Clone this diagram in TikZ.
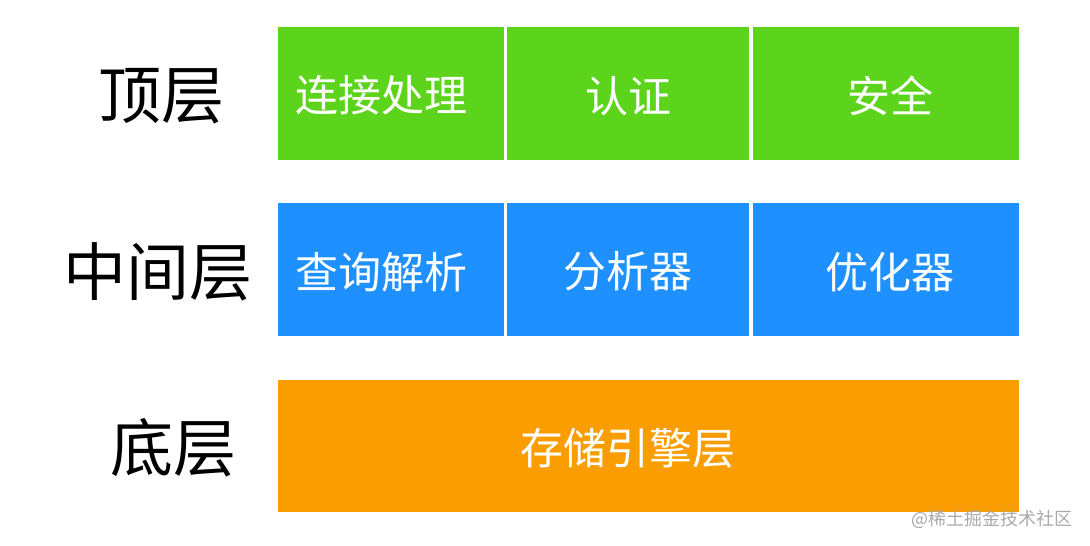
\documentclass[tikz,border=0pt]{standalone}
\usepackage{fontspec}
\setmainfont{Noto Sans CJK SC}
\usepackage{tikz}
\usetikzlibrary{positioning}

\definecolor{topgreen}{HTML}{5DD41C}
\definecolor{midblue}{HTML}{1E90FF}
\definecolor{lowamber}{HTML}{F99D00}
\definecolor{markgray}{HTML}{A9A9A9}

\begin{document}
\begin{tikzpicture}[x=1pt,y=-1pt,
    layer/.style={font=\fontsize{63}{63}\selectfont,inner sep=0pt},
    cell/.style={anchor=north west,inner sep=0pt,minimum height=133pt},
    tag/.style={text=white,font=\fontsize{43}{43}\selectfont,inner sep=0pt,yshift=-2pt}]
      \useasboundingbox (0,0) rectangle (1090,546);

      \coordinate (t1) at (278,27);
      \coordinate (t2) at (507,27);
      \coordinate (t3) at (753,27);
      \coordinate (m1) at (278,203);
      \coordinate (m2) at (507,203);
      \coordinate (m3) at (753,203);
      \coordinate (b1) at (278,380);

      % row labels
      \node[layer] (toplbl) at (161,96) {顶层};
      \node[layer] (midlbl) at (158,272) {中间层};
      \node[layer] (lowlbl) at (173,448) {底层};

      % top layer
      \node[cell,fill=topgreen,minimum width=226pt,
            label={[tag,xshift=-10pt]center:连接处理}] (conn) at (t1) {};
      \node[cell,fill=topgreen,minimum width=242pt,
            label={[tag]center:认证}] (auth) at (t2) {};
      \node[cell,fill=topgreen,minimum width=266pt,
            label={[tag,xshift=4pt]center:安全}] (secu) at (t3) {};

      % middle layer
      \node[cell,fill=midblue,minimum width=226pt,
            label={[tag,xshift=-10pt]center:查询解析}] (parse) at (m1) {};
      \node[cell,fill=midblue,minimum width=242pt,
            label={[tag]center:分析器}] (anlz) at (m2) {};
      \node[cell,fill=midblue,minimum width=266pt,
            label={[tag,xshift=4pt]center:优化器}] (optz) at (m3) {};

      % bottom layer
      \node[cell,fill=lowamber,minimum width=741pt,minimum height=132pt,
            label={[tag,xshift=-21pt]center:存储引擎层}] (store) at (b1) {};

      \node[text=markgray,font=\fontsize{18}{18}\selectfont,inner sep=0pt] (mark) at (992,519) {@稀土掘金技术社区};
\end{tikzpicture}
\end{document}
